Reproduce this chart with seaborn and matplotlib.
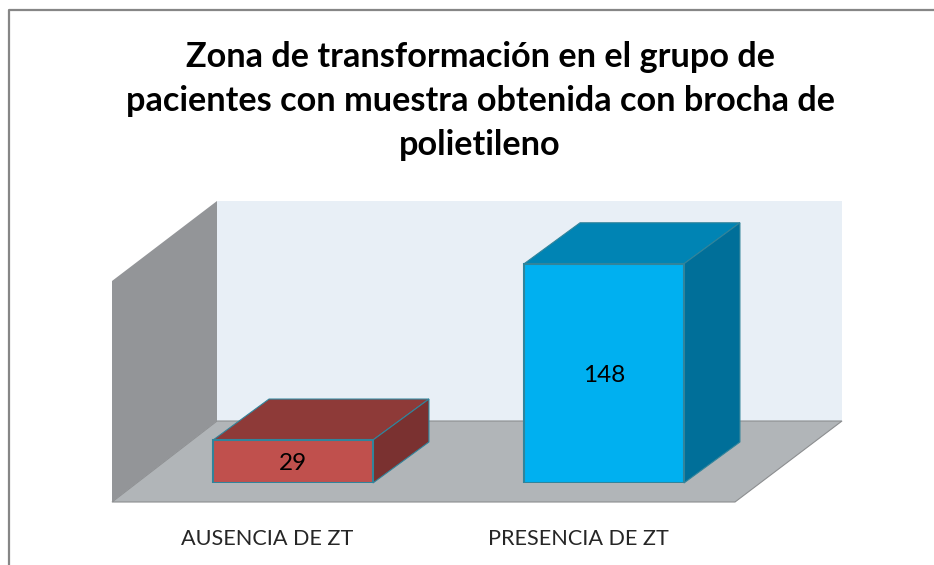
import numpy as np
import matplotlib
matplotlib.use("Agg")
import matplotlib.pyplot as plt
from matplotlib.lines import Line2D
from matplotlib.patches import Polygon
from matplotlib.transforms import ScaledTranslation
import seaborn as sns

categories = ["AUSENCIA DE ZT", "PRESENCIA DE ZT"]
values = [29, 148]
title = "Zona de transformación en el grupo de\npacientes con muestra obtenida con brocha de\npolietileno"

front_colors = ["#C0504D", "#00B0F0"]
top_colors = ["#8E3A38", "#0084B4"]
side_colors = ["#7A3130", "#006F99"]
edge_color = "#31849B"

W, H = 934, 565


def px(points):
	# pixel coords, y going down, to figure fraction
	return [(x / W, 1 - y / H) for x, y in points]


sns.set_style("white")
plt.rcParams["font.family"] = ["Lato", "DejaVu Sans"]

fig = plt.figure(figsize=(W / 100, H / 100), dpi=100)

# outer frame, only top and left show in the picture
fig.add_artist(Line2D([9 / W, 9 / W, 1], [0, 1 - 10 / H, 1 - 10 / H], color="#868686", lw=1.6, zorder=-1))

# walls and floor of the 3d box, behind the axes
fig.add_artist(Polygon(px([(217, 201), (842, 201), (842, 421), (217, 421)]), transform=fig.transFigure, fc="#E8EFF6", ec="none", zorder=-3))
fig.add_artist(Polygon(px([(112, 502), (735, 502), (842, 421), (217, 421)]), transform=fig.transFigure, fc="#B1B5B8", ec="#8C8E90", lw=0.8, zorder=-2))
fig.add_artist(Polygon(px([(112, 281), (217, 201), (217, 421), (112, 502)]), transform=fig.transFigure, fc="#939598", ec="none", zorder=-1))

fig.text(480 / W, 1 - 101 / H, title, ha="center", va="center", fontsize=24.7, fontweight="bold", linespacing=1.45, color="black")

# axes lined up with the front plane of the bars
ax = fig.add_axes([137.5 / W, 1 - 483 / H, 622 / W, 237 / H])
ax.patch.set_alpha(0)
sns.barplot(x=categories, y=values, hue=categories, palette=front_colors, width=0.514,
	edgecolor=edge_color, linewidth=1.5, legend=False, ax=ax, zorder=3, saturation=1)
ax.set_xlim(-0.5, 1.5)
ax.set_ylim(0, 160)
ax.set_yticks([])
ax.set_ylabel("")
sns.despine(ax=ax, left=True, bottom=True)

# depth of the bars in data units
dx = 56 / 311
dy = 41 * 160 / 237

for i, bar in enumerate(list(ax.patches)):
	x0 = bar.get_x()
	x1 = x0 + bar.get_width()
	h = bar.get_height()
	ax.add_patch(Polygon([(x0, h), (x1, h), (x1 + dx, h + dy), (x0 + dx, h + dy)], fc=top_colors[i], ec=edge_color, lw=0.8, clip_on=False, zorder=2))
	ax.add_patch(Polygon([(x1, 0), (x1, h), (x1 + dx, h + dy), (x1 + dx, dy)], fc=side_colors[i], ec=edge_color, lw=0.8, clip_on=False, zorder=2))
	ax.text(x0 + bar.get_width() / 2, h / 2, str(values[i]), ha="center", va="center_baseline", fontsize=17.5, color="black", zorder=4)

# tick labels sit left of the bars in the original
ax.tick_params(axis="x", length=0, pad=33, labelsize=15.6)
for label in ax.get_xticklabels():
	label.set_transform(label.get_transform() + ScaledTranslation(-26 / 100, 0, fig.dpi_scale_trans))

fig.savefig("out.png", dpi=100)
